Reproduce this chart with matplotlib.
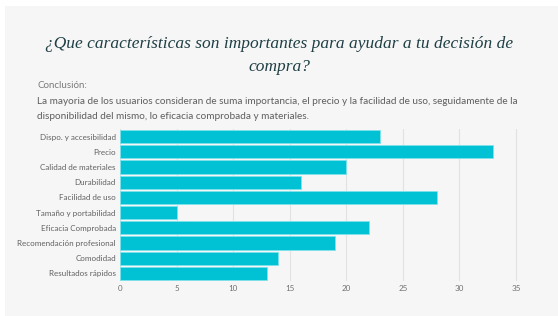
import matplotlib.pyplot as plt
from matplotlib.patches import Rectangle

# Data
categories = ["Dispo. y accesibilidad", "Precio", "Calidad de materiales", "Durabilidad",
              "Facilidad de uso", "Tamaño y portabilidad", "Eficacia Comprobada",
              "Recomendación profesional", "Comodidad", "Resultados rápidos"]
values = [23, 33, 20, 16, 28, 5, 22, 19, 14, 13]
x_ticks = [0, 5, 10, 15, 20, 25, 30, 35]

TITLE = "¿Que características son importantes para ayudar a tu decisión de\ncompra?"
CONCLUSION_HEAD = "Conclusión:"
CONCLUSION_BODY = ("La mayoria de los usuarios consideran de suma importancia, el precio y la facilidad de uso, seguidamente de la\n"
                   "disponibilidad del mismo, lo eficacia comprobada y materiales.")

BG = "#f6f6f6"
BAR = "#00c2d4"

fig = plt.figure(figsize=(5.58, 3.16), dpi=100)
fig.patch.set_facecolor("white")
# gray panel with thin white border
fig.patches.append(Rectangle((5 / 558, 0), 1 - 5 / 558, 1 - 6 / 316, transform=fig.transFigure,
                             facecolor=BG, edgecolor="none", zorder=-5))

fig.text(0.5, 1 - 55.5 / 316, TITLE, ha="center", va="center", fontsize=12.5,
         family="Liberation Serif", style="italic", color="#1f3f44", linespacing=1.65)
fig.text(37 / 558, 1 - 85 / 316, CONCLUSION_HEAD, ha="left", va="center",
         fontsize=7, family="Lato", color="#7a7a7a")
fig.text(37 / 558, 1 - 109 / 316, CONCLUSION_BODY, ha="left", va="center",
         fontsize=7.2, family="Lato", color="#5e5e5e", linespacing=1.8)

ax = fig.add_axes([120 / 558, 1 - 281 / 316, 413 / 558, 152 / 316])
ax.set_facecolor(BG)
y = range(len(categories))
ax.barh(y, values, height=0.88, color=BAR, edgecolor="#7fe3ec", linewidth=0.6, zorder=3)
ax.set_ylim(len(categories) - 0.5, -0.5)
ax.set_xlim(0, 36.5)
ax.set_yticks(list(y))
ax.set_yticklabels(categories, fontsize=5.8, family="Lato", color="#606060")
ax.set_xticks(x_ticks)
ax.set_xticklabels([str(t) for t in x_ticks], fontsize=5.8, family="Lato", color="#707070")
ax.tick_params(length=0, pad=3)
ax.grid(axis="x", color="#e2e2e2", linewidth=0.8, zorder=0)
for s in ax.spines.values():
    s.set_visible(False)

fig.savefig("out.png", dpi=100, facecolor=fig.get_facecolor())
